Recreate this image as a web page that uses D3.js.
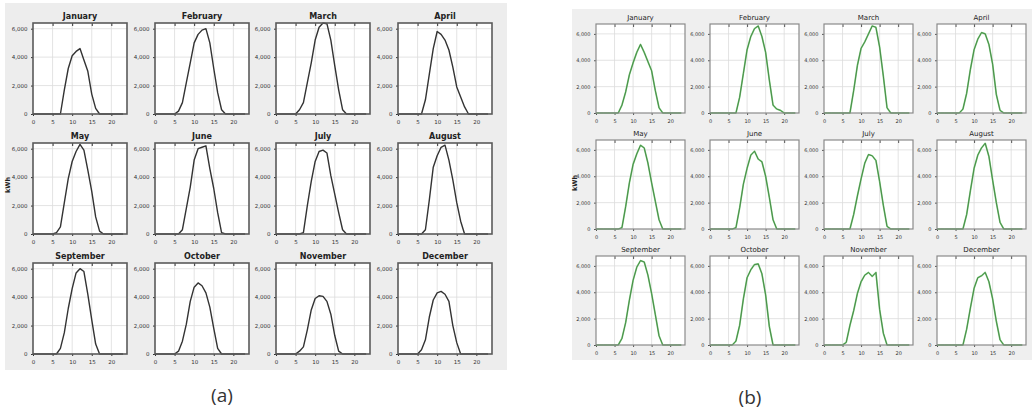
<!DOCTYPE html>
<html>
<head>
<meta charset="utf-8">
<script src="https://cdn.jsdelivr.net/npm/d3@7/dist/d3.min.js"></script>
<style>
  html, body { margin: 0; padding: 0; background: #fff; }
  svg { display: block; }
  .tick text { font-family: "DejaVu Sans", sans-serif; }
</style>
</head>
<body>
<svg id="chart" width="1032" height="413"></svg>
<script>
// Hourly energy profiles (kWh) for each month, two model outputs side by side.
const months = ["January", "February", "March", "April", "May", "June",
                "July", "August", "September", "October", "November", "December"];
const hours = [0,1,2,3,4,5,6,7,8,9,10,11,12,13,14,15,16,17,18,19,20,21,22,23];
const xTicks = [0, 5, 10, 15, 20];
const yTicks = [0, 2000, 4000, 6000];

// Panel (a) – black curves
const aJanuary   = [0,0,0,0,0,0,0,0,1700,3200,4100,4400,4600,3800,3000,1400,400,0,0,0,0,0,0,0];
const aFebruary  = [0,0,0,0,0,0,200,800,2200,3600,5000,5600,5900,6000,5000,3200,1500,300,0,0,0,0,0,0];
const aMarch     = [0,0,0,0,0,0,300,800,2200,3600,5200,6100,6400,6350,5200,3400,1700,300,0,0,0,0,0,0];
const aApril     = [0,0,0,0,0,0,0,1000,2800,4600,5800,5600,5200,4500,3300,1900,1200,500,0,0,0,0,0,0];
const aMay       = [0,0,0,0,0,0,100,500,2200,3900,5100,5800,6300,5900,4500,3000,1200,200,0,0,0,0,0,0];
const aJune      = [0,0,0,0,0,0,0,300,1800,3300,5200,6000,6100,6200,4600,3200,1500,100,0,0,0,0,0,0];
const aJuly      = [0,0,0,0,0,0,0,100,2000,3700,5100,5800,5900,5700,4100,2800,1500,300,0,0,0,0,0,0];
const aAugust    = [0,0,0,0,0,0,0,300,2400,4700,5500,6100,6250,5200,3800,2200,900,0,0,0,0,0,0,0];
const aSeptember = [0,0,0,0,0,0,0,400,1500,3200,4600,5700,6000,5800,4200,2400,700,0,0,0,0,0,0,0];
const aOctober   = [0,0,0,0,0,0,200,900,2100,3700,4700,5000,4800,4300,3300,1800,400,0,0,0,0,0,0,0];
const aNovember  = [0,0,0,0,0,0,200,500,1700,3100,3900,4100,4050,3700,2800,1300,200,0,0,0,0,0,0,0];
const aDecember  = [0,0,0,0,0,0,300,1000,2600,3800,4300,4400,4200,3700,2000,800,0,0,0,0,0,0,0,0];

// Panel (b) – green curves
const bJanuary   = [0,0,0,0,0,0,0,600,1600,2900,3800,4600,5200,4600,3900,3200,1700,400,0,0,0,0,0,0];
const bFebruary  = [0,0,0,0,0,0,0,0,1200,3000,4800,5800,6400,6600,5800,4600,2500,600,300,200,0,0,0,0];
const bMarch     = [0,0,0,0,0,0,0,0,1700,3600,4900,5400,6000,6600,6500,5000,2800,400,0,0,0,0,0,0];
const bApril     = [0,0,0,0,0,0,0,300,1500,3300,4800,5600,6100,6000,5200,3700,1400,200,0,0,0,0,0,0];
const bMay       = [0,0,0,0,0,0,0,100,1700,3500,4900,5700,6350,6150,5000,3500,2100,700,0,0,0,0,0,0];
const bJune      = [0,0,0,0,0,0,0,100,1600,3400,4600,5600,5900,5300,5100,4000,2400,700,0,0,0,0,0,0];
const bJuly      = [0,0,0,0,0,0,0,0,1100,2500,3800,5000,5650,5550,5200,3600,1800,200,0,0,0,0,0,0];
const bAugust    = [0,0,0,0,0,0,0,0,1100,2900,4600,5600,6150,6500,5500,3700,2000,500,0,0,0,0,0,0];
const bSeptember = [0,0,0,0,0,0,0,500,1700,3400,4900,5900,6400,6300,5300,3900,2300,700,0,0,0,0,0,0];
const bOctober   = [0,0,0,0,0,0,0,300,1500,3500,5100,5700,6100,6150,5400,3800,1400,0,0,0,0,0,0,0];
const bNovember  = [0,0,0,0,0,0,200,1500,2600,3900,4800,5300,5500,5200,5500,2700,900,0,0,0,0,0,0,0];
const bDecember  = [0,0,0,0,0,0,0,0,1200,2800,4300,5100,5250,5500,4800,3500,1800,400,0,0,0,0,0,0];

const seriesA = [aJanuary, aFebruary, aMarch, aApril, aMay, aJune,
                 aJuly, aAugust, aSeptember, aOctober, aNovember, aDecember];
const seriesB = [bJanuary, bFebruary, bMarch, bApril, bMay, bJune,
                 bJuly, bAugust, bSeptember, bOctober, bNovember, bDecember];

const svg = d3.select("#chart");
const fmt = d3.format(",");

function drawPanel(opt) {
  const g = svg.append("g");
  g.append("rect")
    .attr("x", opt.bg[0]).attr("y", opt.bg[1])
    .attr("width", opt.bg[2]).attr("height", opt.bg[3])
    .attr("fill", opt.bgColor);

  const x = d3.scaleLinear().domain([0, 24]).range([0, opt.w]);
  const y = d3.scaleLinear().domain([0, opt.yMax]).range([opt.h, 0]);
  const line = d3.line().x((d, i) => x(hours[i])).y(d => y(d));

  months.forEach((m, k) => {
    const col = k % 4, row = Math.floor(k / 4);
    const cell = g.append("g")
      .attr("transform", `translate(${opt.lefts[col]},${opt.tops[row]})`);

    cell.append("rect").attr("width", opt.w).attr("height", opt.h).attr("fill", "#fff");

    // grid
    cell.selectAll(".gx").data(xTicks.slice(1)).join("line")
      .attr("x1", d => x(d)).attr("x2", d => x(d))
      .attr("y1", 0).attr("y2", opt.h)
      .attr("stroke", "#dcdcdc").attr("stroke-width", 0.8);
    cell.selectAll(".gy").data(yTicks.slice(1)).join("line")
      .attr("x1", 0).attr("x2", opt.w)
      .attr("y1", d => y(d)).attr("y2", d => y(d))
      .attr("stroke", "#dcdcdc").attr("stroke-width", 0.8);

    // axes
    const ax = cell.append("g").attr("transform", `translate(0,${opt.h})`)
      .call(d3.axisBottom(x).tickValues(xTicks).tickSize(2).tickSizeOuter(0));
    const ay = cell.append("g")
      .call(d3.axisLeft(y).tickValues(yTicks).tickFormat(fmt).tickSize(2).tickSizeOuter(0));
    [ax, ay].forEach(a => {
      a.select(".domain").remove();
      a.selectAll("line").attr("stroke", opt.tickColor);
      a.selectAll("text").attr("font-size", opt.tickFont).attr("fill", "#333");
    });
    ax.selectAll("text").attr("dy", "0.9em");
    ay.selectAll("text").attr("dx", "-0.1em");

    // ticks along the top edge
    cell.append("g")
      .call(d3.axisBottom(x).tickValues(xTicks.slice(1)).tickSize(3).tickFormat(""))
      .call(a => a.select(".domain").remove())
      .selectAll("line").attr("stroke", opt.tickColor);

    // curve
    if (opt.halo) {
      cell.append("path").datum(opt.series[k]).attr("d", line)
        .attr("fill", "none").attr("stroke", opt.halo)
        .attr("stroke-width", 1.7).attr("stroke-linejoin", "round");
    }
    cell.append("path").datum(opt.series[k]).attr("d", line)
      .attr("fill", "none").attr("stroke", opt.lineColor)
      .attr("stroke-width", opt.lineWidth).attr("stroke-linejoin", "round");

    // frame
    cell.append("rect").attr("width", opt.w).attr("height", opt.h)
      .attr("fill", "none").attr("stroke", opt.frameColor).attr("stroke-width", opt.frameWidth);

    // month title
    cell.append("text")
      .attr("x", opt.w / 2).attr("y", -4)
      .attr("text-anchor", "middle")
      .attr("font-family", "DejaVu Sans, sans-serif")
      .attr("font-size", opt.titleFont)
      .attr("font-weight", opt.titleWeight)
      .attr("fill", "#222")
      .text(m);
  });

  // y-axis unit
  g.append("text")
    .attr("transform", `translate(${opt.unitPos[0]},${opt.unitPos[1]}) rotate(-90)`)
    .attr("text-anchor", "middle")
    .attr("font-family", "DejaVu Sans, sans-serif")
    .attr("font-size", 6.5).attr("font-weight", "bold").attr("fill", "#222")
    .text("kWh");

  // panel caption
  svg.append("text")
    .attr("x", opt.caption[0]).attr("y", opt.caption[1])
    .attr("text-anchor", "middle")
    .attr("font-family", "Open Sans, sans-serif")
    .attr("font-size", 19).attr("fill", "#333")
    .text(opt.label);
}

drawPanel({
  series: seriesA, label: "(a)",
  bg: [5, 3, 502, 367], bgColor: "#ededed",
  lefts: [33, 155, 276, 398], tops: [23, 143, 263], w: 94, h: 91,
  yMax: 6400,
  lineColor: "#333", lineWidth: 1.4, halo: null,
  frameColor: "#5a5a5a", frameWidth: 1.6, tickColor: "#333",
  tickFont: 5.5, titleFont: 8, titleWeight: "bold",
  unitPos: [10, 185], caption: [222, 402]
});

drawPanel({
  series: seriesB, label: "(b)",
  bg: [572, 9, 460, 351], bgColor: "#efefef",
  lefts: [596, 710, 824, 937], tops: [24, 140, 256], w: 89, h: 89,
  yMax: 6750,
  lineColor: "#356b35", lineWidth: 0.7, halo: "#7ccf7c",
  frameColor: "#8a8a8a", frameWidth: 1.2, tickColor: "#555",
  tickFont: 5, titleFont: 7, titleWeight: "normal",
  unitPos: [577, 183], caption: [750, 404]
});
</script>
</body>
</html>
